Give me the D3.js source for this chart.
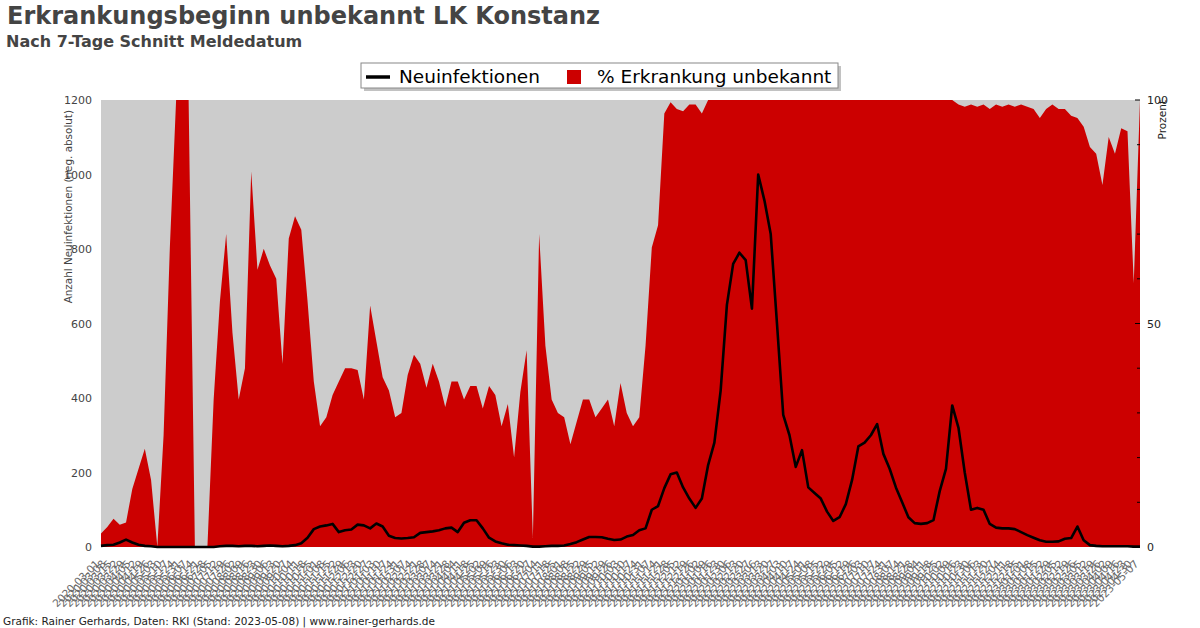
<!DOCTYPE html>
<html>
<head>
<meta charset="utf-8">
<script src="https://cdn.jsdelivr.net/npm/d3@7"></script>
<style>
  html, body { margin: 0; padding: 0; background: #fff; }
  svg { display: block; font-family: "DejaVu Sans", sans-serif; }
</style>
</head>
<body>
<svg id="chart" width="1200" height="628"></svg>
<script>
// ---- Data (weekly readings from the reference) ----
const startDate = new Date(2020, 2, 1);   // first week start
const stepDays = 7;

// % Erkrankung unbekannt (right axis, Prozent)
const pctUnknown = [
  3, 4.5, 6.3, 5, 5.5, 13, 17.5, 22, 15, 0,
  25, 67, 100, 100, 100, 0, 0, 0, 33, 55,
  70, 48, 33, 40, 84, 62, 66.7, 63, 60, 41,
  69, 74, 71, 55, 37, 27, 29, 34, 37, 40,
  40, 39.6, 33, 54, 46, 38, 35, 29, 30, 38.5,
  43, 41, 35.6, 41, 37, 31.3, 37, 37, 33, 36,
  36, 31, 36, 34, 27, 32, 20, 34.7, 44, 2,
  70, 45, 33, 30, 29, 23, 28, 33, 33, 29,
  31, 33, 27, 36.7, 30, 27, 29, 45, 67, 72,
  97, 99.5, 98, 97.5, 99, 99, 97, 100, 100, 100,
  100, 100, 100, 100, 100, 100, 100, 100, 100, 100,
  100, 100, 100, 100, 100, 100, 100, 100, 100, 100,
  100, 100, 100, 100, 100, 100, 100, 100, 100, 100,
  100, 100, 100, 100, 100, 100, 100, 99, 98.5, 99,
  98.5, 99, 98, 99, 98.5, 99, 98.5, 99, 98.5, 98,
  96, 98, 99, 98, 98, 96.5, 96, 94, 89.5, 88,
  81, 91.7, 88, 93.7, 93, 59, 100
];

// Neuinfektionen (left axis, Anzahl)
const newCases = [
  3, 5, 6, 12, 20, 12, 6, 3, 2, 0,
  0, 0, 0, 0, 0, 0, 0, 0, 0, 2,
  3, 3, 2, 3, 3, 2, 3, 4, 3, 2,
  3, 5, 10, 25, 48, 55, 58, 62, 40, 45,
  47, 60, 58, 50, 63, 55, 30, 24, 23, 24,
  26, 38, 40, 42, 45, 50, 52, 40, 65, 72,
  72, 50, 25, 15, 10, 6, 5, 4, 3, 1,
  1, 2, 3, 3, 4, 8, 13, 20, 27, 27,
  26, 22, 19, 20, 28, 32, 45, 50, 100, 110,
  158, 195, 200, 160, 130, 105, 130, 220, 280, 420,
  650, 760, 790, 770, 640, 1000, 930, 840, 600, 355,
  300, 215, 260, 160, 145, 130, 95, 70, 80, 115,
  180, 270, 280, 300, 330, 250, 210, 160, 120, 80,
  64, 62, 64, 72, 150, 210, 380, 320, 200, 100,
  105, 100, 62, 52, 50, 50, 48, 40, 32, 25,
  18, 14, 14, 15, 22, 24, 55, 18, 5, 3,
  2, 2, 2, 2, 2, 1, 1
];

const leftTicks = [0, 200, 400, 600, 800, 1000, 1200];
const rightLabelTicks = [0, 50, 100];
const rightMinorTicks = [10, 20, 30, 40, 60, 70, 80, 90];

const titleText = "Erkrankungsbeginn unbekannt LK Konstanz";
const subtitleText = "Nach 7-Tage Schnitt Meldedatum";
const footerText = "Grafik: Rainer Gerhards, Daten: RKI (Stand: 2023-05-08) | www.rainer-gerhards.de";
const leftAxisTitle = "Anzahl Neuinfektionen (neg. absolut)";
const rightAxisTitle = "Prozent";
const legendLine = "Neuinfektionen";
const legendArea = "% Erkrankung unbekannt";

// ---- Build ----
const data = pctUnknown.map((p, i) => ({
  date: d3.timeDay.offset(startDate, i * stepDays),
  p: p,
  n: newCases[i]
}));
const endDate = data[data.length - 1].date;

const svg = d3.select("#chart");
const L = 101, R = 1140, T = 100, B = 547;

const x = d3.scaleTime().domain([startDate, endDate]).range([L, R]);
const yL = d3.scaleLinear().domain([0, 1200]).range([B, T]);
const yR = d3.scaleLinear().domain([0, 100]).range([B, T]);

// background
svg.append("rect").attr("x", L).attr("y", T).attr("width", R - L).attr("height", B - T)
  .attr("fill", "#cccccc");

// area
const area = d3.area().x(d => x(d.date)).y0(B).y1(d => yR(d.p)).curve(d3.curveLinear);
svg.append("path").datum(data).attr("d", area).attr("fill", "#cc0000");

// line
const line = d3.line().x(d => x(d.date)).y(d => yL(d.n)).curve(d3.curveLinear);
svg.append("path").datum(data).attr("d", line).attr("fill", "none")
  .attr("stroke", "#000").attr("stroke-width", 2.6).attr("stroke-linejoin", "round");

// left axis labels
const gL = svg.append("g").attr("transform", `translate(${L},0)`)
  .call(d3.axisLeft(yL).tickValues(leftTicks).tickFormat(d3.format("d")).tickSize(0).tickPadding(9));
gL.select(".domain").remove();
gL.selectAll("text").attr("font-size", 11).attr("fill", "#444").attr("font-family", "DejaVu Sans");

// right axis
const gR = svg.append("g").attr("transform", `translate(${R},0)`);
gR.call(d3.axisRight(yR).tickValues(rightLabelTicks).tickSize(0).tickPadding(7));
gR.select(".domain").remove();
gR.selectAll("text").attr("font-size", 11).attr("fill", "#222").attr("font-family", "DejaVu Sans");
gR.selectAll(".tickmark-minor").data(rightMinorTicks).enter().append("line")
  .attr("x1", -3).attr("x2", 0).attr("y1", d => yR(d)).attr("y2", d => yR(d))
  .attr("stroke", "#000").attr("stroke-width", 1);
gR.selectAll(".tickmark-major").data(rightLabelTicks).enter().append("line")
  .attr("x1", d => d === 0 ? -8 : -5).attr("x2", 0).attr("y1", d => yR(d)).attr("y2", d => yR(d))
  .attr("stroke", "#000").attr("stroke-width", 1);

// x axis labels
const fmt = d3.timeFormat("%Y-%m-%d");
const gX = svg.append("g").attr("transform", `translate(-4,${B + 15})`)
  .call(d3.axisBottom(x).tickValues(data.map(d => d.date)).tickFormat(fmt).tickSize(0).tickPadding(0));
gX.select(".domain").remove();
gX.selectAll("text")
  .attr("font-size", 10.5).attr("fill", "#666").attr("font-family", "DejaVu Sans")
  .attr("text-anchor", "end").attr("dy", "0.35em").attr("y", 0)
  .attr("transform", "rotate(-45)");

// axis titles
svg.append("text").attr("transform", `translate(72,110) rotate(-90)`)
  .attr("text-anchor", "end").attr("font-size", 10.4).attr("fill", "#444").text(leftAxisTitle);
svg.append("text").attr("transform", `translate(1166,100) rotate(-90)`)
  .attr("text-anchor", "end").attr("font-size", 10.5).attr("fill", "#222").text(rightAxisTitle);

// title
svg.append("text").attr("x", 7).attr("y", 24).attr("font-size", 24).attr("font-weight", "bold")
  .attr("fill", "#444").text(titleText);
svg.append("text").attr("x", 6).attr("y", 47).attr("font-size", 16).attr("font-weight", "bold")
  .attr("fill", "#444").text(subtitleText);

// legend
const lg = svg.append("g");
lg.append("rect").attr("x", 364).attr("y", 66).attr("width", 477).attr("height", 25).attr("fill", "#999").attr("opacity", 0.6);
lg.append("rect").attr("x", 361).attr("y", 63).attr("width", 477).attr("height", 25)
  .attr("fill", "#fff").attr("stroke", "#888").attr("stroke-width", 1);
lg.append("line").attr("x1", 366).attr("x2", 390).attr("y1", 77).attr("y2", 77)
  .attr("stroke", "#000").attr("stroke-width", 3.5);
lg.append("text").attr("x", 399).attr("y", 83).attr("font-size", 18.5).attr("fill", "#000").text(legendLine);
lg.append("rect").attr("x", 567).attr("y", 70).attr("width", 14).attr("height", 14).attr("fill", "#cc0000");
lg.append("text").attr("x", 597).attr("y", 83).attr("font-size", 18.5).attr("fill", "#000").text(legendArea);

// footer
svg.append("text").attr("x", 3).attr("y", 625).attr("font-size", 10.5).attr("fill", "#222").text(footerText);
</script>
</body>
</html>
